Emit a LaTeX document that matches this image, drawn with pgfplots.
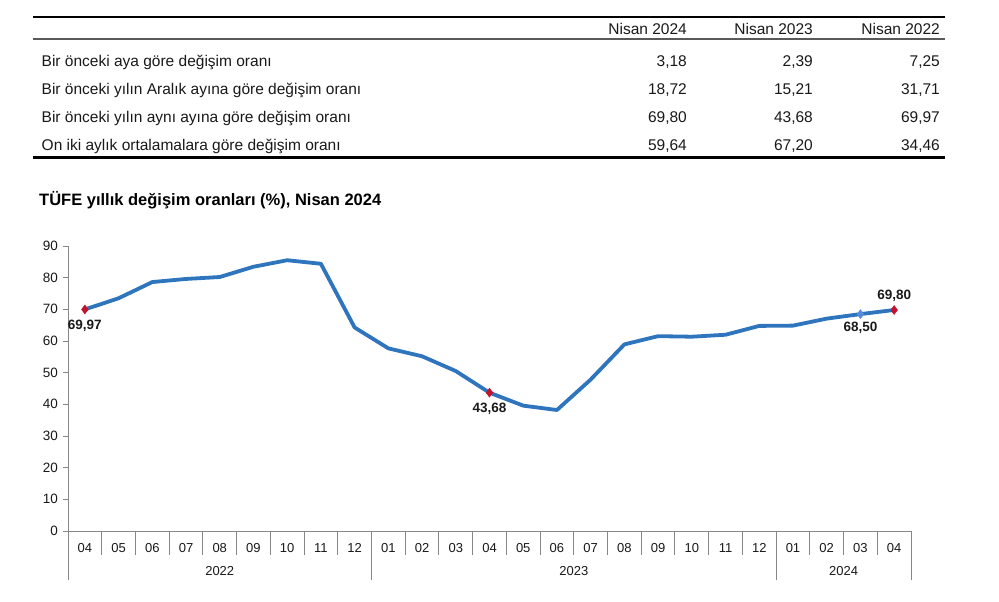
\documentclass[border=0pt]{standalone}
\usepackage{fontspec}
\setmainfont{Liberation Sans}
\usepackage{pgfplots}
\pgfplotsset{compat=1.18}
\definecolor{txt}{RGB}{25,25,25}
\definecolor{axgray}{RGB}{135,135,135}
\definecolor{lineblue}{RGB}{46,117,190}
\definecolor{mkred}{RGB}{192,20,45}
\definecolor{mkblue}{RGB}{85,140,215}
\begin{document}
\begin{tikzpicture}[x=1bp,y=1bp]
\path[use as bounding box] (0,0) rectangle (999,-602);
% ---- table ----
\begin{scope}[font=\fontsize{15.5bp}{18bp}\selectfont, text=txt]
\draw[line width=2.2bp, black] (33,-17) -- (945,-17);
\draw[line width=1.5bp, black!65] (33,-39) -- (945,-39);
\draw[line width=2.6bp, black] (33,-157.5) -- (945,-157.5);
\node[anchor=base east, inner sep=0pt] at (687,-35) {Nisan 2024};
\node[anchor=base east, inner sep=0pt] at (813,-35) {Nisan 2023};
\node[anchor=base east, inner sep=0pt] at (940,-35) {Nisan 2022};
\node[anchor=base west, inner sep=0pt] at (41.5,-66.5) {Bir önceki aya göre değişim oranı};
\node[anchor=base west, inner sep=0pt] at (41.5,-94.5) {Bir önceki yılın Aralık ayına göre değişim oranı};
\node[anchor=base west, inner sep=0pt] at (41.5,-122.7) {Bir önceki yılın aynı ayına göre değişim oranı};
\node[anchor=base west, inner sep=0pt] at (41.5,-150.7) {On iki aylık ortalamalara göre değişim oranı};
\foreach \y/\a/\b/\c in {-66.5/{3,18}/{2,39}/{7,25}, -94.5/{18,72}/{15,21}/{31,71}, -122.7/{69,80}/{43,68}/{69,97}, -150.7/{59,64}/{67,20}/{34,46}}{
  \node[anchor=base east, inner sep=0pt] at (687,\y) {\a};
  \node[anchor=base east, inner sep=0pt] at (813,\y) {\b};
  \node[anchor=base east, inner sep=0pt] at (940,\y) {\c};
}
\end{scope}
% ---- title ----
\node[anchor=west, inner sep=0pt, font=\fontsize{16.5bp}{19bp}\selectfont\bfseries, text=black] at (39,-200) {TÜFE yıllık değişim oranları (\%), Nisan 2024};
% ---- chart ----
\begin{axis}[
  at={(68bp,-531bp)}, anchor=south west,
  scale only axis, width=843bp, height=285bp,
  xmin=-0.5, xmax=24.5, ymin=0, ymax=90,
  axis lines=left, axis line style={-, draw=axgray, line width=1bp},
  clip=false,
  tick align=outside, major tick length=5bp,
  ytick={0,10,...,90},
  ytick style={draw=axgray, line width=1bp},
  xtick={0,...,24},
  xticklabels={04,05,06,07,08,09,10,11,12,01,02,03,04,05,06,07,08,09,10,11,12,01,02,03,04},
  x tick style={draw=none},
  /pgf/number format/assume math mode=true,
  ticklabel style={font=\fontsize{13.5bp}{16bp}\selectfont, text=txt},
  xticklabel style={anchor=center, yshift=-12bp, font=\fontsize{13bp}{16bp}\selectfont},
  yticklabel style={inner sep=0pt, xshift=-5bp},
]
\addplot[lineblue, line width=3.8bp, line join=round] coordinates {
(0,69.97) (1,73.50) (2,78.62) (3,79.60) (4,80.21) (5,83.45) (6,85.51) (7,84.39) (8,64.27)
(9,57.68) (10,55.18) (11,50.51) (12,43.68) (13,39.59) (14,38.21) (15,47.83) (16,58.94)
(17,61.53) (18,61.36) (19,61.98) (20,64.77) (21,64.86) (22,67.07) (23,68.50) (24,69.80)};
\addplot[only marks, mark=diamond*, mark size=4.5bp, mkblue, mark options={draw=mkblue, fill=mkblue}] coordinates {(23,68.50)};
\addplot[only marks, mark=diamond*, mark size=4.5bp, mkred, mark options={draw=mkred, fill=mkred}] coordinates {(0,69.97) (12,43.68) (24,69.80)};
\begin{scope}[font=\fontsize{13.5bp}{16bp}\selectfont\bfseries, text=txt]
\node[yshift=-16bp] at (axis cs:0,69.97) {69,97};
\node[yshift=-16bp] at (axis cs:12,43.68) {43,68};
\node[yshift=-14bp] at (axis cs:23,68.50) {68,50};
\node[yshift=14bp] at (axis cs:24,69.80) {69,80};
\end{scope}
% category separators
\pgfplotsinvokeforeach{0.5,1.5,2.5,3.5,4.5,5.5,6.5,7.5,9.5,10.5,11.5,12.5,13.5,14.5,15.5,16.5,17.5,18.5,19.5,21.5,22.5,23.5}{
  \draw[axgray, line width=1bp] (axis cs:#1,0) -- ([yshift=-24bp]axis cs:#1,0);
}
\pgfplotsinvokeforeach{-0.5,8.5,20.5,24.5}{
  \draw[axgray, line width=1bp] (axis cs:#1,0) -- ([yshift=-49bp]axis cs:#1,0);
}
\begin{scope}[font=\fontsize{13bp}{16bp}\selectfont, text=txt]
\node[yshift=-40bp] at (axis cs:4,0) {2022};
\node[yshift=-40bp] at (axis cs:14.5,0) {2023};
\node[yshift=-40bp] at (axis cs:22.5,0) {2024};
\end{scope}
\end{axis}
\end{tikzpicture}
\end{document}
